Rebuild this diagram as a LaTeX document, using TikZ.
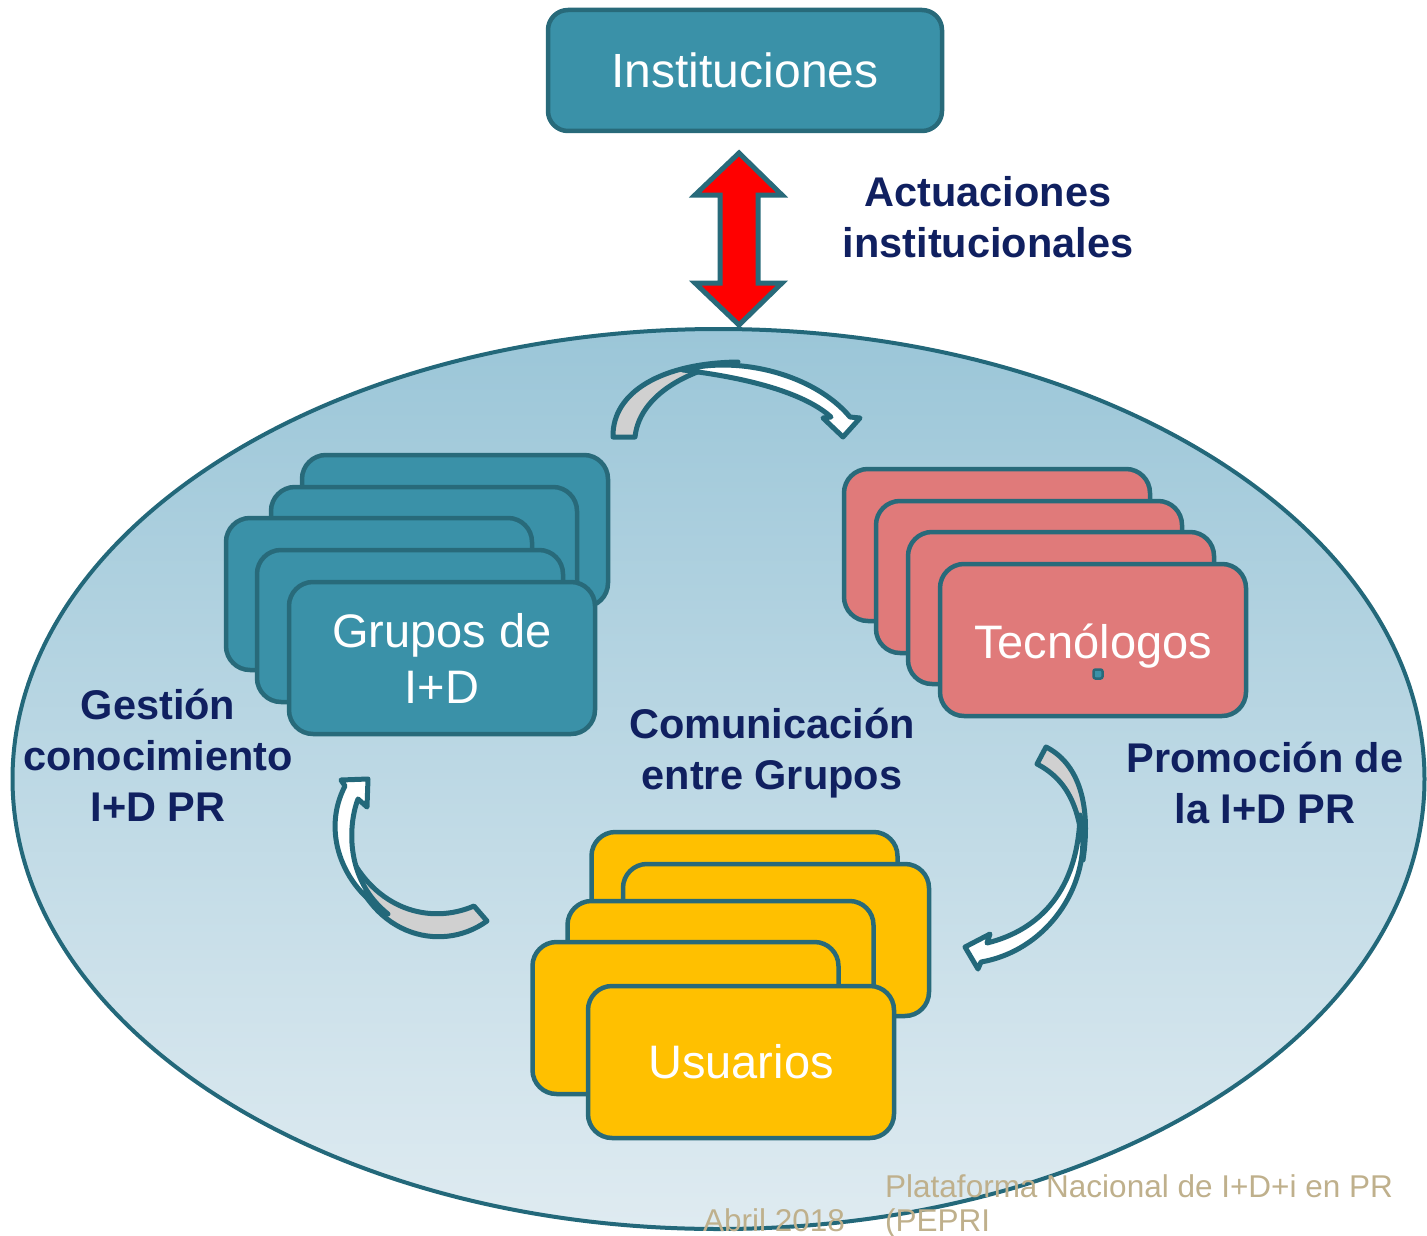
\documentclass[tikz,border=0pt]{standalone}
\usepackage{fontspec}
\setmainfont{Liberation Sans}
\definecolor{tealfill}{RGB}{58,145,168}
\definecolor{boxline}{RGB}{40,106,122}
\definecolor{ellline}{RGB}{35,104,122}
\definecolor{navy}{RGB}{16,32,96}
\definecolor{coral}{RGB}{224,122,122}
\definecolor{gold}{RGB}{255,192,0}
\definecolor{greyband}{RGB}{208,208,208}
\definecolor{tan}{RGB}{191,176,140}
\definecolor{elltop}{RGB}{155,198,216}
\definecolor{ellbot}{RGB}{223,235,241}
\begin{document}
\begin{tikzpicture}[x=1pt,y=-1pt,
  card/.style={draw=boxline, line width=4.5pt, rounded corners=24pt,
    minimum width=306pt, minimum height=152pt, inner sep=0pt,
    text=white, align=center, font=\fontsize{47}{56}\selectfont},
  tealcard/.style={card, fill=tealfill},
  coralcard/.style={card, fill=coral},
  goldcard/.style={card, fill=gold},
  lbl/.style={text=navy, align=center, font=\bfseries\fontsize{41.5}{51}\selectfont},
  foot/.style={text=tan, font=\fontsize{31.5}{37}\selectfont, inner sep=0pt},
  band/.style={draw=ellline, line width=5pt, line join=round},
  dblarrow/.style={draw=boxline, fill=red, line width=5pt, line join=miter}]
\useasboundingbox (0,0) rectangle (1427,1236);

% ellipse
\shade[top color=elltop, bottom color=ellbot] (718.5,779) ellipse [x radius=706, y radius=450];
\draw[ellline, line width=4pt] (718.5,779) ellipse [x radius=706, y radius=450];

% Instituciones
\node[card, fill=tealfill, minimum width=394pt, minimum height=121pt, rounded corners=20pt,
  font=\fontsize{48}{56}\selectfont] (inst) at (745,70.5) {Instituciones};

% double arrow
\draw[dblarrow] (739,153) -- (782,195) -- (758,195) -- (758,283) -- (782,283) -- (739,325)
  -- (695,283) -- (720,283) -- (720,195) -- (695,195) -- cycle;

\node[lbl] (act) at (988,217) {Actuaciones\\institucionales};

% top curved arrow
\filldraw[band, fill=greyband] (613,437) .. controls (612,392) and (662,363) .. (738,362)
  .. controls (700,366) and (640,390) .. (635,437) -- cycle;
\filldraw[band, fill=white] (683,370) .. controls (740,355) and (815,375) .. (850,417)
  -- (860,418) -- (843,437) -- (823,418) -- (831,417)
  .. controls (810,398) and (765,380) .. (683,370) -- cycle;

% left curved arrow
\filldraw[band, fill=greyband] (487,921) .. controls (440,955) and (365,935) .. (347,850)
  .. controls (375,910) and (430,925) .. (474,906) -- cycle;
\filldraw[band, fill=white] (388,914) .. controls (340,885) and (322,830) .. (345,786)
  -- (341,780) -- (368,779) -- (367,807) -- (358,799)
  .. controls (348,825) and (345,880) .. (388,914) -- cycle;

% right curved arrow
\filldraw[band, fill=greyband] (1046,747) .. controls (1076,762) and (1092,800) .. (1083,860)
  .. controls (1082,810) and (1068,780) .. (1037,764) -- cycle;
\filldraw[band, fill=white] (1080,815) .. controls (1095,880) and (1050,950) .. (981,962)
  -- (978,969) -- (965,947) -- (990,934) -- (987,943)
  .. controls (1040,930) and (1078,890) .. (1080,815) -- cycle;

% Grupos de I+D stack
\node[tealcard] (g1) at (455,531) {};
\node[tealcard] (g2) at (424,563) {};
\node[tealcard] (g3) at (379,594) {};
\node[tealcard] (g4) at (410,626) {};
\node[tealcard] (grupos) at (442,658) {Grupos de\\I+D};

% Tecnologos stack
\node[coralcard] (t1) at (997,545) {};
\node[coralcard] (t2) at (1029,577) {};
\node[coralcard] (t3) at (1061,608) {};
\node[coralcard] (tecno) at (1093,640) {\raisebox{-6pt}[\height][\depth]{Tecnólogos}};
\node[draw=boxline, fill=tealfill, line width=2.5pt, rounded corners=2pt, minimum size=9pt,
  inner sep=0pt] (dot) at (1098,674) {};

% Usuarios stack
\node[goldcard] (u1) at (744.5,908) {};
\node[goldcard] (u2) at (776,940) {};
\node[goldcard] (u3) at (720.5,977) {};
\node[goldcard] (u4) at (685.5,1018) {};
\node[goldcard] (usu) at (741,1062) {Usuarios};

% labels
\node[lbl] (gest) at (158,755) {Gestión\\conocimiento\\I+D PR};
\node[lbl] (comu) at (772,753) {Comunicación\\entre Grupos};
\node[lbl] (promo) at (1265,783) {Promoción de\\la I+D PR};

% footer
\node[foot, anchor=base west] (plat) at (885,1197) {Plataforma Nacional de I+D+i en PR};
\node[foot, anchor=base west] (pepri) at (885,1231) {(PEPRI};
\node[foot, anchor=base west] (abril) at (703,1231) {Abril 2018};
\end{tikzpicture}
\end{document}
